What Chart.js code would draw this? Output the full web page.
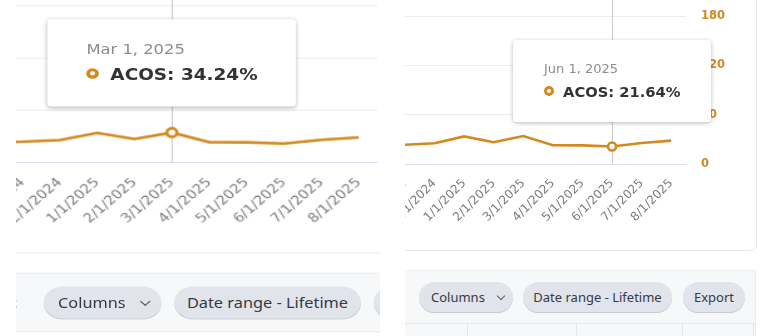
<!DOCTYPE html>
<html>
<head>
<meta charset="utf-8">
<script src="https://cdn.jsdelivr.net/npm/chart.js@4.4.1/dist/chart.umd.min.js"></script>
<style>
  html, body { margin: 0; padding: 0; background: #fff; width: 768px; height: 336px; overflow: hidden; font-family: 'Noto Sans', sans-serif; }
  .clip { position: absolute; top: 0; height: 336px; overflow: hidden; }
  #clipL { left: 16px; width: 364px; }
  #clipR { left: 405px; width: 363px; }
  .native { position: absolute; top: 0; transform-origin: 0 0; }
  #clipL .native { left: 0; width: 420px; height: 340px; transform: scale(1.255, 1.065); }
  #clipR .native { left: -405px; width: 800px; height: 340px; }
  .wrap { position: absolute; }
  .card { position: absolute; background: #fff; border: 1px solid #e8e8e8; border-radius: 6px; }
  .sep { position: absolute; height: 1px; background: #ebebeb; }
  .tip { position: absolute; width: 198px; height: 82px; background: #fff; border-radius: 3px;
         box-shadow: 0 1px 4px rgba(0,0,0,0.28); font-family: 'DejaVu Sans', sans-serif; z-index: 5; }
  .tip .t { position: absolute; left: 31px; top: 21.5px; font-size: 13px; line-height: 13px; color: #8c8c8c; white-space: nowrap; }
  .tip .v { position: absolute; left: 50px; top: 44px; font-size: 14.7px; line-height: 15px; font-weight: bold; color: #333; white-space: nowrap; }
  .tip .dot { position: absolute; left: 31px; top: 46px; width: 4px; height: 4px; border: 3px solid #d4891f; border-radius: 50%; background: #fff; }
  .foot { position: absolute; background: #f7f8fa; }
  .pill { position: absolute; height: 31px; border-radius: 16px; background: #e1e4ea; box-shadow: inset 0 -1px 0 #c8cdd5;
          font-size: 13px; line-height: 31px; color: #333b45; text-align: center; white-space: nowrap; }
  .pill.cols { text-align: left; padding-left: 12px; box-sizing: border-box; }
  .chev { display: inline-block; width: 5px; height: 5px; border-right: 1.5px solid #555d66; border-bottom: 1.5px solid #555d66;
          transform: rotate(45deg); margin-left: 13px; position: relative; top: -3px; }
  .link { position: absolute; color: #2a70d6; font-size: 13px; line-height: 31px; font-weight: bold; }
  .vl { position: absolute; width: 1px; background: #e6e6e6; }
</style>
</head>
<body>
<div class="clip" id="clipL">
  <div class="native">
    <div class="wrap" id="wrapL"><canvas id="chartL"></canvas></div>
    <div class="tip" id="tipL"><div class="t"></div><span class="dot"></span><div class="v"></div></div>
    <div class="sep" style="left:0;width:300px;top:236.6px"></div>
    <div class="foot" style="left:0;width:300px;top:256.3px;height:53.6px;border-top:1px solid #eeeeee;border-bottom:1px solid #e8e8e8"></div>
    <span class="link" style="left:-5px;top:268.5px">t</span>
    <div class="pill cols" style="left:21.5px;top:268.5px;width:94px">Columns<span class="chev"></span></div>
    <div class="pill" style="left:125.9px;top:268.5px;width:149px">Date range - Lifetime</div>
    <div class="pill" style="left:284.5px;top:268.5px;width:62px">Export</div>
  </div>
</div>

<div class="clip" id="clipR">
  <div class="native">
    <div class="card" style="left:380px;top:-10px;width:375px;height:259px"></div>
    <div class="wrap" id="wrapR"><canvas id="chartR"></canvas></div>
    <div class="tip" id="tipR"><div class="t"></div><span class="dot"></span><div class="v"></div></div>
    <div class="foot" style="left:380px;top:270px;width:375px;height:70px;border-top:1px solid #efefef;border-right:1px solid #ececec"></div>
    <div class="pill cols" style="left:419px;top:282px;width:94px">Columns<span class="chev"></span></div>
    <div class="pill" style="left:523px;top:282px;width:149px">Date range - Lifetime</div>
    <div class="pill" style="left:683px;top:282px;width:62px">Export</div>
    <div class="sep" style="left:380px;width:376px;top:323px;background:#e6e6e6"></div>
    <div class="vl" style="left:467px;top:323px;height:20px"></div>
    <div class="vl" style="left:576px;top:323px;height:20px"></div>
    <div class="vl" style="left:682px;top:323px;height:20px"></div>
    <div class="vl" style="left:753px;top:323px;height:20px"></div>
  </div>
</div>

<script>
// ACOS by month — same series shown in both cropped panels
const months = ['10/1/2024', '11/1/2024', '12/1/2024', '1/1/2025', '2/1/2025', '3/1/2025',
                '4/1/2025', '5/1/2025', '6/1/2025', '7/1/2025', '8/1/2025'];
const acos = [23.0, 23.8, 25.5, 33.8, 26.8, 34.24, 23.2, 23.0, 21.64, 25.9, 28.7];
const yTicks = [0, 60, 120, 180];
const monthNames = ['Jan', 'Feb', 'Mar', 'Apr', 'May', 'Jun', 'Jul', 'Aug', 'Sep', 'Oct', 'Nov', 'Dec'];

const ORANGE = '#d4891f';
const GRID = '#ececec';
const ZERO = '#d9dff0';
const PAD_L = 40;   // room left of the plot (cropped away anyway)
const AXIS_W = 70;  // right-hand value axis
const AXIS_H = 86;  // rotated date labels

Chart.defaults.font.family = "'DejaVu Sans', sans-serif";

const tipDate = (label) => {
  const [m, d, y] = label.split('/');
  return `${monthNames[+m - 1]} ${d}, ${y}`;
};

const crosshair = {
  id: 'crosshair',
  beforeDatasetsDraw(chart, args, opts) {
    const x = Math.round(chart.scales.x.getPixelForValue(opts.index)) + 0.5;
    const ctx = chart.ctx;
    ctx.save();
    ctx.strokeStyle = '#cdcdcd';
    ctx.lineWidth = 1;
    ctx.beginPath();
    ctx.moveTo(x, 0);
    ctx.lineTo(x, chart.chartArea.bottom);
    ctx.stroke();
    ctx.restore();
  },
};

// geo = wanted plot area inside the panel (panel's own pixels).
// Not responsive: the left panel is CSS-stretched and would confuse Chart.js sizing.
function drawPanel(wrapId, canvasId, tipId, geo, active, showValues) {
  const wrap = document.getElementById(wrapId);
  const canvas = document.getElementById(canvasId);
  const left = Math.round(geo.l - PAD_L);
  const w = Math.round(geo.r + AXIS_W) - left;
  const h = Math.round(geo.b + AXIS_H);
  wrap.style.left = left + 'px';
  wrap.style.top = '0px';
  canvas.width = w;
  canvas.height = h;

  const chart = new Chart(canvas, {
    type: 'line',
    data: {
      labels: months,
      datasets: [{
        label: 'ACOS',
        data: acos,
        borderColor: ORANGE,
        borderWidth: 2.6,
        tension: 0,
        fill: false,
        pointRadius: (c) => (c.dataIndex === active ? 4 : 0),
        pointBorderWidth: 2.6,
        pointBackgroundColor: '#fff',
        pointBorderColor: ORANGE,
      }],
    },
    options: {
      responsive: false,
      animation: false,
      events: [],
      layout: { autoPadding: false, padding: { left: geo.l - left, top: geo.t, right: 0, bottom: 0 } },
      plugins: { legend: { display: false }, tooltip: { enabled: false }, crosshair: { index: active } },
      scales: {
        x: {
          offset: true,
          grid: { display: false },
          border: { display: false },
          ticks: { minRotation: 45, maxRotation: 45, autoSkip: false, color: '#7c7c7c', font: { size: 12 }, padding: 4 },
          afterFit: (s) => { s.height = h - geo.b; },
        },
        y: {
          position: 'right',
          min: yTicks[0],
          max: yTicks[yTicks.length - 1],
          afterBuildTicks: (s) => { s.ticks = yTicks.map((v) => ({ value: v })); },
          grid: {
            color: (c) => (c.tick && c.tick.value === 0 ? ZERO : GRID),
            drawTicks: true, tickLength: 15, tickColor: 'rgba(0,0,0,0)',
          },
          border: { display: false },
          ticks: { display: showValues, padding: 0, color: ORANGE, font: { size: 11.5, weight: 'bold' } },
          afterFit: (s) => { s.width = AXIS_W; },
        },
      },
    },
    plugins: [crosshair],
  });

  const tip = document.getElementById(tipId);
  const px = chart.scales.x.getPixelForValue(active);
  const py = chart.scales.y.getPixelForValue(acos[active]);
  tip.style.left = (left + px - 99) + 'px';
  tip.style.top = (py - 24 - 82) + 'px';
  tip.querySelector('.t').textContent = tipDate(months[active]);
  tip.querySelector('.v').textContent = `ACOS: ${acos[active].toFixed(2)}%`;
  return chart;
}

drawPanel('wrapL', 'chartL', 'tipL', { l: -39.6, r: 288.2, t: 5.2, b: 152.4 }, 5, false);
drawPanel('wrapR', 'chartR', 'tipR', { l: 360.6, r: 686.0, t: 16, b: 164.3 }, 8, true);
</script>
</body>
</html>
